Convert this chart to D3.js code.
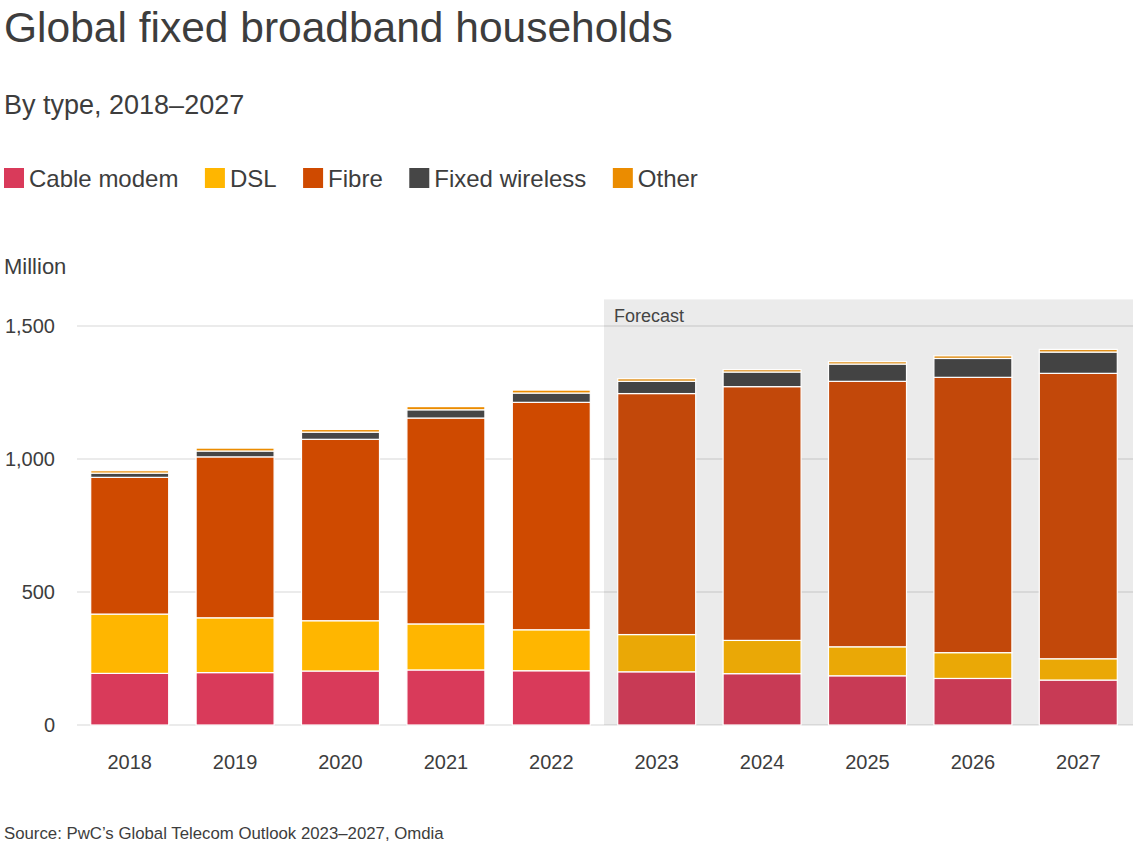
<!DOCTYPE html>
<html>
<head>
<meta charset="utf-8">
<script src="https://cdn.jsdelivr.net/npm/d3@7"></script>
<style>
  html, body { margin: 0; padding: 0; background: #fff; }
  svg { display: block; font-family: "Liberation Sans", Arial, Helvetica, sans-serif; }
</style>
</head>
<body>
<svg id="chart" width="1133" height="844"></svg>
<script>
// ---- Data (million households) ----
const years = ["2018","2019","2020","2021","2022","2023","2024","2025","2026","2027"];
const forecastYears = ["2023","2024","2025","2026","2027"];
const seriesNames = ["Cable modem","DSL","Fibre","Fixed wireless","Other"];
const cableModem    = [194, 197, 203, 207, 204, 200, 193, 185, 175, 169];
const dsl           = [223, 206, 189, 173, 154, 140, 125, 109,  97,  80];
const fibre         = [514, 605, 682, 774, 855, 906, 954, 998, 1035, 1073];
const fixedWireless = [ 16,  22,  27,  31,  35,  46,  55,  65,  71,  80];
const other         = [  9,  11,  10,  12,  11,  10,   9,   9,  10,  10];
const yTicks = [0, 500, 1000, 1500];

// ---- Styles ----
const colors         = ["#d93a5a", "#ffb600", "#cf4a00", "#464646", "#eb8c00"];
const forecastColors = ["#c83a55", "#eaa806", "#c2480a", "#434343", "#e0901a"];
const textColor = "#3d3d3d";

const svg = d3.select("#chart");
const W = 1133, H = 844;
const plotLeft = 77, plotRight = 1131, y0px = 725, yTopPx = 299.4;

const table = years.map((yr, i) => ({
  year: yr,
  "Cable modem": cableModem[i],
  "DSL": dsl[i],
  "Fibre": fibre[i],
  "Fixed wireless": fixedWireless[i],
  "Other": other[i]
}));

const x = d3.scaleBand().domain(years).range([plotLeft, plotRight])
  .paddingInner(0.26).paddingOuter(0.13);
const y = d3.scaleLinear().domain([0, 1600]).range([y0px, yTopPx]);

// Title / subtitle
svg.append("text").attr("x", 4).attr("y", 42)
  .attr("font-size", 42.5).attr("fill", textColor)
  .text("Global fixed broadband households");
svg.append("text").attr("x", 4).attr("y", 114)
  .attr("font-size", 27).attr("fill", textColor)
  .text("By type, 2018–2027");

// Legend
const legend = svg.append("g");
let lx = 4;
seriesNames.forEach((name, i) => {
  legend.append("rect").attr("x", lx).attr("y", 168).attr("width", 20).attr("height", 20)
    .attr("fill", colors[i]);
  const t = legend.append("text").attr("x", lx + 25).attr("y", 187)
    .attr("font-size", 24).attr("fill", textColor).text(name);
  lx += 25 + t.node().getComputedTextLength() + 26.5;
});

// Forecast background
const step = x.step();
const fx0 = x(forecastYears[0]) - step * x.paddingInner() / 2;
svg.append("rect")
  .attr("x", fx0).attr("y", y(1600))
  .attr("width", W - fx0).attr("height", y(0) - y(1600))
  .attr("fill", "#ebebeb");

// Gridlines
svg.append("g").selectAll("line").data(yTicks).join("line")
  .attr("x1", plotLeft).attr("x2", W)
  .attr("y1", d => y(d)).attr("y2", d => y(d))
  .attr("stroke", "rgba(0,0,0,0.08)").attr("stroke-width", 2);

// Y axis labels
const yAxis = d3.axisLeft(y).tickValues(yTicks).tickFormat(d3.format(",")).tickSize(0).tickPadding(0);
const ya = svg.append("g").attr("transform", "translate(55,0)").call(yAxis);
ya.select(".domain").remove();
ya.selectAll("text").attr("font-size", 20).attr("fill", textColor)
  .attr("font-family", "Liberation Sans, Arial, sans-serif");

svg.append("text").attr("x", 4).attr("y", 274)
  .attr("font-size", 22).attr("fill", textColor).text("Million");

// Forecast label
svg.append("text").attr("x", fx0 + 10).attr("y", 322)
  .attr("font-size", 18).attr("fill", "#444").text("Forecast");

// Stacked bars
const stack = d3.stack().keys(seriesNames);
const stacked = stack(table);
const isForecast = yr => forecastYears.includes(yr);

svg.append("g").selectAll("g").data(stacked).join("g")
  .each(function(layer, li) {
    d3.select(this).selectAll("rect").data(layer).join("rect")
      .attr("x", d => x(d.data.year))
      .attr("width", x.bandwidth())
      .attr("y", d => y(d[1]))
      .attr("height", d => y(d[0]) - y(d[1]))
      .attr("fill", d => isForecast(d.data.year) ? forecastColors[li] : colors[li])
      .attr("stroke", "#fff").attr("stroke-width", 1.2);
  });

// X axis labels
const xAxis = d3.axisBottom(x).tickSize(0).tickPadding(0);
const xa = svg.append("g").attr("transform", "translate(0,754)").call(xAxis);
xa.select(".domain").remove();
xa.selectAll("text").attr("font-size", 20).attr("fill", textColor)
  .attr("font-family", "Liberation Sans, Arial, sans-serif").attr("dy", "0.75em");

// Source
svg.append("text").attr("x", 4).attr("y", 839)
  .attr("font-size", 16.8).attr("fill", textColor)
  .text("Source: PwC’s Global Telecom Outlook 2023–2027, Omdia");
</script>
</body>
</html>
